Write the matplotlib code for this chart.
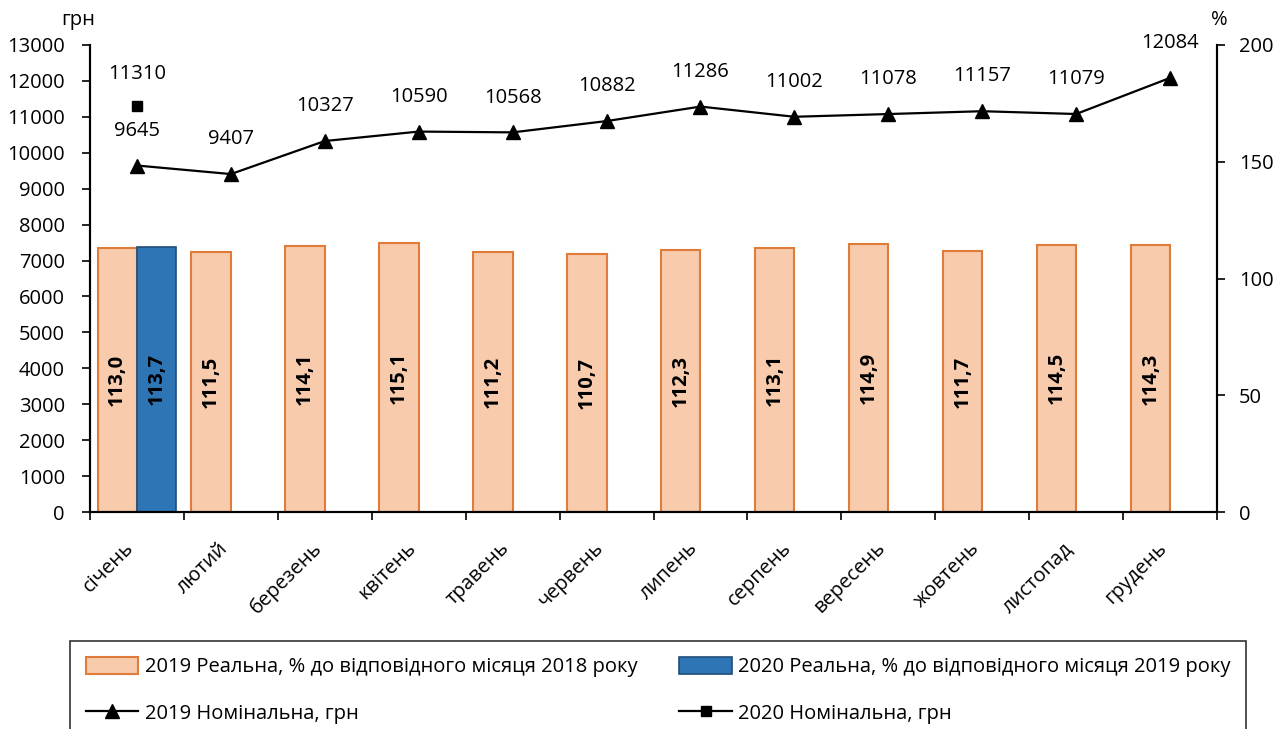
import numpy as np
import matplotlib
matplotlib.use("Agg")
import matplotlib.pyplot as plt
import matplotlib.transforms as mtransforms

plt.rcParams['font.family'] = ['Open Sans', 'DejaVu Sans']

months = ['січень', 'лютий', 'березень', 'квітень', 'травень', 'червень',
          'липень', 'серпень', 'вересень', 'жовтень', 'листопад', 'грудень']
real_2019 = [113.0, 111.5, 114.1, 115.1, 111.2, 110.7, 112.3, 113.1, 114.9, 111.7, 114.5, 114.3]
real_2020 = [113.7]
nominal_2019 = [9645, 9407, 10327, 10590, 10568, 10882, 11286, 11002, 11078, 11157, 11079, 12084]
nominal_2020 = [11310]

x = np.arange(len(months))
fs = 14.5

fig = plt.figure(figsize=(12.88, 7.29), dpi=100)
ax = fig.add_axes([90/1288, 1 - 512/729, (1217-90)/1288, (512-45)/729])
ax2 = ax.twinx()

# bars on the % axis (right)
w = 0.42
b19 = ax2.bar(x - 0.21, real_2019, width=w, color='#F8CBAD', edgecolor='#E07B39', linewidth=1.5,
              label='2019 Реальна, % до відповідного місяця 2018 року')
b20 = ax2.bar(x[:len(real_2020)] + 0.21, real_2020, width=w, color='#2E75B6', edgecolor='#1F4E79',
              linewidth=1.2, label='2020 Реальна, % до відповідного місяця 2019 року')
for xi, v in zip(x - 0.21, real_2019):
    ax2.text(xi, v / 2, f'{v:.1f}'.replace('.', ','), rotation=90, ha='center', va='center',
             fontsize=fs, fontweight='bold')
for xi, v in zip(x[:len(real_2020)] + 0.21, real_2020):
    ax2.text(xi, v / 2, f'{v:.1f}'.replace('.', ','), rotation=90, ha='center', va='center',
             fontsize=fs, fontweight='bold')

# lines on the грн axis (left)
l19, = ax.plot(x, nominal_2019, color='black', lw=1.6, marker='^', ms=10,
               label='2019 Номінальна, грн')
l20, = ax.plot(x[:len(nominal_2020)], nominal_2020, color='black', lw=1.6, marker='s', ms=7,
               label='2020 Номінальна, грн')
for xi, v in zip(x, nominal_2019):
    ax.annotate(str(v), (xi, v), xytext=(0, 25), textcoords='offset points',
                ha='center', va='center', fontsize=fs)
for xi, v in zip(x[:len(nominal_2020)], nominal_2020):
    ax.annotate(str(v), (xi, v), xytext=(0, 23), textcoords='offset points',
                ha='center', va='center', fontsize=fs)

ax.set_zorder(ax2.get_zorder() + 1)
ax.patch.set_visible(False)

ax.set_xlim(-0.5, len(months) - 0.5)
ax.set_ylim(0, 13000)
ax.set_yticks(np.arange(0, 13001, 1000))
ax2.set_ylim(0, 200)
ax2.set_yticks([0, 50, 100, 150, 200])

ax.set_xticks(x)
ax.set_xticklabels(months, rotation=45, ha='right', va='center', rotation_mode='anchor')
ax.set_xticks(np.arange(-0.5, len(months), 1), minor=True)
ax.tick_params(axis='x', which='major', length=0, pad=24, labelsize=fs)
ax.tick_params(axis='x', which='minor', length=6, width=1.2, direction='out')
ax.tick_params(axis='y', length=6, width=1.2, labelsize=fs, pad=12)
ax2.tick_params(axis='y', length=6, width=1.2, labelsize=fs, pad=10)
shift = mtransforms.ScaledTranslation(-6/100, 0, fig.dpi_scale_trans)
for lab in ax.get_xticklabels():
    lab.set_transform(lab.get_transform() + shift)

for a in (ax, ax2):
    a.spines['top'].set_visible(False)
    for s in ('left', 'right', 'bottom'):
        a.spines[s].set_linewidth(1.5)

fig.text(78/1288, 1 - 20/729, 'грн', ha='center', va='center', fontsize=fs)
fig.text(1219/1288, 1 - 20/729, '%', ha='center', va='center', fontsize=fs)

leg = fig.legend([b19, l19, b20, l20],
                 [b19.get_label(), l19.get_label(), b20.get_label(), l20.get_label()],
                 ncol=2, loc='upper left', bbox_to_anchor=(70/1288, 1 - 641/729),
                 borderaxespad=0, fontsize=14.5, frameon=True, fancybox=False, edgecolor='black',
                 handlelength=2.6, handleheight=0.9, labelspacing=1.3, columnspacing=2.1,
                 borderpad=0.8, handletextpad=0.3)
leg.get_frame().set_linewidth(1.2)

fig.savefig('out.png', dpi=100)
